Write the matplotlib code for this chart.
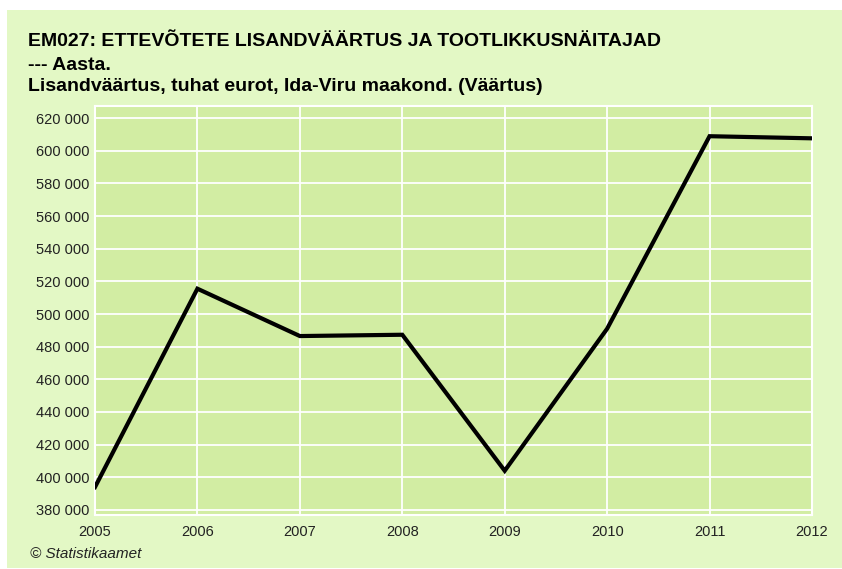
import matplotlib.pyplot as plt
from matplotlib.patches import Rectangle
from matplotlib.ticker import FuncFormatter

years = [2005, 2006, 2007, 2008, 2009, 2010, 2011, 2012]
values = [394000, 515500, 486500, 487300, 404000, 491000, 608900, 607600]
yticks = list(range(380000, 620001, 20000))

title_lines = [
    'EM027: ETTEVÕTETE LISANDVÄÄRTUS JA TOOTLIKKUSNÄITAJAD',
    '--- Aasta.',
    'Lisandväärtus, tuhat eurot, Ida-Viru maakond. (Väärtus)',
]

W, H = 842, 569
outer_bg = '#e3f8c5'
plot_bg = '#d2eda3'

plt.rcParams['font.family'] = ['Liberation Sans', 'DejaVu Sans']

fig = plt.figure(figsize=(W / 100, H / 100), dpi=100)
fig.patch.set_facecolor('white')
fig.patches.append(Rectangle((7 / W, 1 / H), 835 / W, 558 / H, transform=fig.transFigure,
                             facecolor=outer_bg, edgecolor='none', zorder=-5))

ax = fig.add_axes([95 / W, (H - 515) / H, 717 / W, 409 / H])
ax.set_zorder(2)
ax.set_facecolor(plot_bg)
ax.plot(years, values, color='black', linewidth=3.0, solid_joinstyle='miter', zorder=3)

ax.set_xlim(years[0], years[-1])
ax.set_ylim(376900, 627400)
ax.set_xticks(years)
ax.set_yticks(yticks)
ax.yaxis.set_major_formatter(FuncFormatter(lambda v, p: '{:,.0f}'.format(v).replace(',', ' ')))
ax.grid(True, color='white', linewidth=1.3)
ax.set_axisbelow(True)
for s in ax.spines.values():
    s.set_color('white')
    s.set_linewidth(1.5)
ax.tick_params(length=0, labelsize=10.5, colors='#222222')
ax.tick_params(axis='y', pad=4)
ax.tick_params(axis='x', pad=7)

baselines = [46, 70, 91]
for line, yb in zip(title_lines, baselines):
    fig.text(28 / W, 1 - yb / H, line, fontsize=14, fontweight='bold', ha='left', va='baseline')

fig.text(30 / W, 1 - 558 / H, '© Statistikaamet', fontsize=11, style='italic', ha='left',
         va='baseline', color='#222222')

fig.savefig('out.png', dpi=100, facecolor=fig.get_facecolor())
